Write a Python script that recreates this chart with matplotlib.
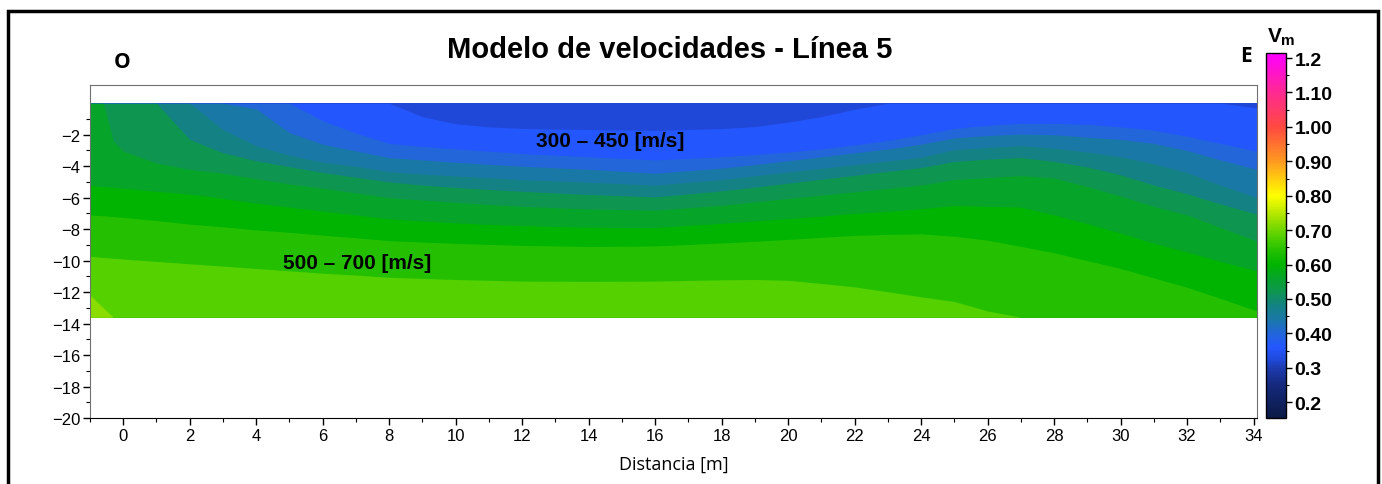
import numpy as np
import matplotlib.pyplot as plt
import matplotlib.cm as cm
from matplotlib.colors import LinearSegmentedColormap, Normalize
from matplotlib.patches import Rectangle
from matplotlib.ticker import MultipleLocator

plt.rcParams['font.family'] = ['Liberation Sans', 'DejaVu Sans']

# distance along the line [m]
dist = [-1, -0.6, -0.3, 0, 1, 2, 3, 4, 5, 6, 7, 8, 9, 10, 11, 12, 14, 16, 18,
        19, 20, 21, 22, 23, 24, 25, 26, 27, 28, 29, 30, 31, 32, 33, 34.1]

# velocity levels [km/s]; depth [m] of each iso-velocity boundary
levels = [0.30, 0.34, 0.38, 0.42, 0.46, 0.50, 0.54, 0.58, 0.62, 0.66, 0.70, 0.74]
surface = 0.0
base = -13.6
z034 = [0, 0, 0, 0, 0, 0, 0, 0, 0, 0, 0, 0, -0.85, -1.3, -1.5, -1.6, -1.67, -1.72, -1.61,
        -1.48, -1.2, -0.85, -0.38, 0, 0, 0, 0, 0, 0, 0, 0, 0, 0, 0, -0.3]
z038 = [0, 0, 0, 0, 0, 0, 0, 0, 0, -1.1, -1.9, -2.55, -2.75, -2.9, -3.05, -3.2, -3.4, -3.6, -3.4,
        -3.26, -3.1, -2.9, -2.65, -2.36, -2.0, -1.6, -1.4, -1.27, -1.28, -1.34, -1.5, -1.72, -2.1, -2.55, -3.05]
z042 = [0, 0, 0, 0, 0, 0, 0, -0.35, -1.87, -2.6, -3.03, -3.45, -3.6, -3.75, -3.88, -4.0, -4.2, -4.45, -4.12,
        -3.9, -3.65, -3.4, -3.15, -2.9, -2.6, -2.2, -2.05, -1.95, -2.0, -2.15, -2.3, -2.55, -3.0, -3.6, -4.2]
z046 = [0, 0, 0, 0, 0, 0, -1.67, -2.7, -3.3, -3.75, -4.0, -4.35, -4.5, -4.62, -4.73, -4.85, -5.02, -5.2, -4.85,
        -4.6, -4.37, -4.13, -3.9, -3.67, -3.43, -2.95, -2.8, -2.7, -2.85, -3.1, -3.4, -3.85, -4.4, -5.2, -6.0]
z050 = [0, 0, 0, 0, 0, -2.3, -3.15, -3.66, -4.03, -4.4, -4.7, -5.0, -5.2, -5.35, -5.48, -5.6, -5.8, -5.95, -5.57,
        -5.33, -5.08, -4.83, -4.58, -4.33, -4.09, -3.7, -3.55, -3.45, -3.7, -4.05, -4.55, -5.2, -5.75, -6.4, -7.05]
z054 = [0, 0, -2.4, -3.05, -3.8, -4.2, -4.45, -4.8, -5.13, -5.4, -5.7, -6.0, -6.15, -6.3, -6.43, -6.55, -6.72, -6.8, -6.48,
        -6.27, -6.05, -5.84, -5.63, -5.41, -5.2, -4.85, -4.72, -4.6, -4.75, -5.3, -5.9, -6.55, -7.1, -7.9, -8.75]
z058 = [-5.23, -5.3, -5.35, -5.4, -5.6, -5.78, -6.05, -6.35, -6.6, -6.85, -7.1, -7.35, -7.48, -7.6, -7.7, -7.78, -7.88, -7.9, -7.63,
        -7.48, -7.33, -7.17, -7.0, -6.87, -6.7, -6.5, -6.55, -6.6, -7.1, -7.65, -8.25, -8.9, -9.45, -10.05, -10.65]
z062 = [-7.1, -7.15, -7.2, -7.25, -7.45, -7.68, -7.85, -8.05, -8.2, -8.38, -8.55, -8.73, -8.82, -8.9, -8.97, -9.03, -9.1, -9.07, -8.88,
        -8.77, -8.65, -8.52, -8.4, -8.33, -8.3, -8.45, -8.7, -9.1, -9.5, -10.0, -10.5, -11.1, -11.7, -12.4, -13.2]
z066 = [-9.72, -9.8, -9.85, -9.9, -10.05, -10.2, -10.35, -10.5, -10.65, -10.8, -10.92, -11.06, -11.13, -11.2, -11.25, -11.3, -11.32, -11.3, -11.22,
        -11.2, -11.25, -11.45, -11.67, -11.98, -12.3, -12.6, -13.2, -13.6, -13.6, -13.6, -13.6, -13.6, -13.6, -13.6, -13.6]
z070 = [-12.2, -13.0] + [-13.6] * 33

cbar_ticks = [0.2, 0.3, 0.4, 0.5, 0.6, 0.7, 0.8, 0.9, 1.0, 1.1, 1.2]
cbar_labels = ["0.2", "0.3", "0.40", "0.50", "0.60", "0.70", "0.80", "0.90", "1.00", "1.10", "1.2"]

# colour scale of the section
vmin, vmax = 0.154, 1.214
cnodes = [(0.154, "#0b1a45"), (0.25, "#15297e"), (0.30, "#1d3cb0"), (0.32, "#2048d8"),
          (0.36, "#2457ff"), (0.40, "#2266d8"), (0.44, "#1a78a8"), (0.48, "#148282"),
          (0.52, "#0e9650"), (0.56, "#06a42a"), (0.60, "#00b400"), (0.64, "#24c000"),
          (0.68, "#52d000"), (0.72, "#8cdc00"), (0.80, "#ffff00"), (0.90, "#ff9a20"),
          (1.00, "#ff4a40"), (1.10, "#ff2a90"), (1.214, "#ff00ff")]
cmap = LinearSegmentedColormap.from_list(
    "vm", [((v - vmin) / (vmax - vmin), c) for v, c in cnodes])
norm = Normalize(vmin=vmin, vmax=vmax)

fig = plt.figure(figsize=(13.82, 4.85), dpi=100)
ax = fig.add_axes([0.0651, 0.1361, 0.8444, 0.6856])

bounds = [[surface] * len(dist), z034, z038, z042, z046, z050, z054, z058, z062, z066, z070]
for i in range(len(bounds)):
    mid = (levels[i] + levels[i + 1]) / 2
    ax.fill_between(dist, bounds[i], base, color=cmap(norm(mid)), lw=0)

ax.text(14.65, -2.34, "300 – 450 [m/s]", ha="center", va="center",
        fontsize=15, fontweight="bold")
ax.text(7.03, -10.1, "500 – 700 [m/s]", ha="center", va="center",
        fontsize=15, fontweight="bold")

ax.set_xlim(-1, 34.1)
ax.set_ylim(-20, 1.13)
ax.set_xticks(range(0, 35, 2))
ax.set_yticks(range(-20, -1, 2))
ax.xaxis.set_minor_locator(MultipleLocator(1))
ax.set_yticks(range(-19, 0, 2), minor=True)
ax.tick_params(which="major", length=5, width=1, labelsize=12, pad=2)
ax.tick_params(which="minor", length=3, width=0.8)
for s in ["top", "right", "left"]:
    ax.spines[s].set_color("#707070")
ax.spines["bottom"].set_color("black")
ax.set_xlabel("Distancia [m]", family="Open Sans", fontsize=13, labelpad=9)

fig.text(0.4848, 0.897, "Modelo de velocidades - Línea 5", ha="center", va="center",
         fontsize=21, fontweight="bold")
fig.text(0.0883, 0.872, "O", ha="center", va="center", fontsize=15,
         fontweight="bold", family="Open Sans")
fig.text(0.9016, 0.8825, "E", ha="center", va="center", fontsize=15,
         fontweight="bold", family="Open Sans")

cax = fig.add_axes([0.9161, 0.1361, 0.0145, 0.752])
sm = cm.ScalarMappable(norm=norm, cmap=cmap)
cb = fig.colorbar(sm, cax=cax)
cb.set_ticks(cbar_ticks, labels=cbar_labels)
cax.yaxis.set_minor_locator(MultipleLocator(0.05))
cax.tick_params(which="major", length=4, width=1, labelsize=14, pad=2)
cax.tick_params(which="minor", length=2.5, width=0.8)
for t in cax.get_yticklabels():
    t.set_fontweight("bold")
cb.outline.set_linewidth(1)
fig.text(0.9225, 0.925, "V", ha="center", va="center", fontsize=15, fontweight="bold")
fig.text(0.9318, 0.915, "m", ha="center", va="center", fontsize=11, fontweight="bold")

frame = Rectangle((8 / 1382, -0.05), 1370 / 1382, (473 / 485) + 0.05,
                  transform=fig.transFigure, fill=False, lw=2.5, ec="black")
fig.add_artist(frame)

fig.savefig("out.png", dpi=100)
